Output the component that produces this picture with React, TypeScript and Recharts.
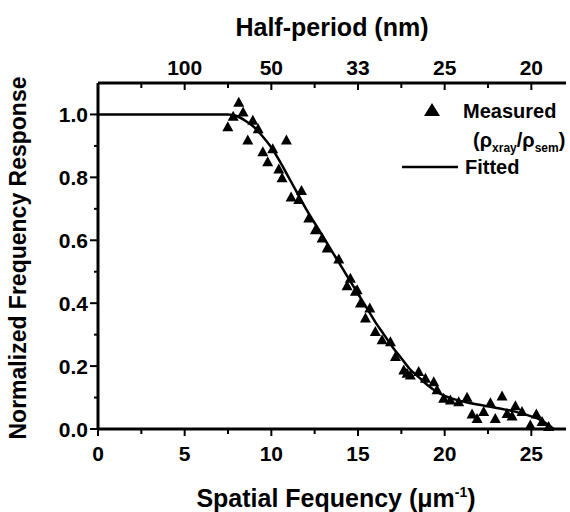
import { ComposedChart, Line, Scatter, XAxis, YAxis, Legend, Label } from "recharts";

const measuredX = [
  7.49, 7.8, 8.12, 8.37, 8.64, 8.93, 9.24, 9.51, 9.79, 10.08, 10.43, 10.62, 10.87,
  11.14, 11.58, 11.74, 12.16, 12.54, 12.93, 13.22, 13.89, 14.37, 14.56, 14.85, 14.95,
  15.14, 15.43, 15.68, 16.0, 16.39, 16.87, 17.16, 17.64, 17.83, 18.02, 18.5, 18.89,
  19.37, 19.56, 19.94, 20.33, 20.81, 21.29, 21.58, 21.87, 22.25, 22.64, 22.92, 23.31,
  23.6, 23.89, 24.08, 24.46, 24.94, 25.29, 25.62, 26.0,
];
const measuredY = [
  0.959, 0.993, 1.037, 1.006, 0.917, 0.98, 0.953, 0.88, 0.848, 0.889, 0.825, 0.797, 0.917,
  0.736, 0.728, 0.757, 0.669, 0.632, 0.606, 0.574, 0.539, 0.454, 0.478, 0.436, 0.441,
  0.399, 0.351, 0.383, 0.308, 0.282, 0.276, 0.229, 0.186, 0.176, 0.17, 0.181, 0.16,
  0.149, 0.123, 0.096, 0.091, 0.085, 0.099, 0.046, 0.032, 0.054, 0.082, 0.032, 0.103,
  0.048, 0.04, 0.072, 0.054, 0.011, 0.046, 0.022, 0.006,
];

// fitted curve, traced
const fitX = [
  0, 2, 4, 6, 7, 7.5, 8, 8.5, 9, 9.5, 10, 10.5, 11, 11.5, 12, 12.5, 13, 13.5, 14, 14.5,
  15, 15.5, 16, 16.5, 17, 17.5, 18, 18.5, 19, 19.5, 20, 21, 22, 23, 24, 25, 25.5, 26, 26.3,
];
const fitY = [
  1, 1, 1, 1, 1, 1, 0.995, 0.98, 0.96, 0.93, 0.895, 0.85, 0.8, 0.75, 0.7, 0.655, 0.61,
  0.565, 0.52, 0.475, 0.43, 0.385, 0.34, 0.3, 0.26, 0.225, 0.19, 0.165, 0.14, 0.12, 0.105,
  0.088, 0.077, 0.067, 0.056, 0.04, 0.03, 0.012, 0,
];

const xTicks = [0, 2.5, 5, 7.5, 10, 12.5, 15, 17.5, 20, 22.5, 25];
const xMajor = [0, 5, 10, 15, 20, 25];
const topTicks = [2.5, 5, 7.5, 10, 12.5, 15, 17.5, 20, 22.5, 25];
const halfPeriodAt = [5, 10, 15, 20, 25];
const halfPeriodLabels = ["100", "50", "33", "25", "20"];
const yTicks = [0, 0.1, 0.2, 0.3, 0.4, 0.5, 0.6, 0.7, 0.8, 0.9, 1.0];
const yMajor = [0, 0.2, 0.4, 0.6, 0.8, 1.0];

const measured = measuredX.map((x, i) => ({ x, y: measuredY[i] }));
const fitted = fitX.map((x, i) => ({ x, y: fitY[i] }));

const FONT = "'Liberation Sans', Arial, Helvetica, sans-serif";
const has = (arr: number[], v: number) => arr.some((m) => Math.abs(m - v) < 1e-6);

function BottomTick({ x, y, payload }: any) {
  const major = has(xMajor, payload.value);
  return (
    <g>
      <line x1={x} x2={x} y1={y} y2={y + (major ? 7 : 5)} stroke="#000" strokeWidth={2} />
      {major && (
        <text x={x} y={y + 32} textAnchor="middle" fontFamily={FONT} fontWeight="bold" fontSize={21} fill="#000">
          {payload.value}
        </text>
      )}
    </g>
  );
}

function TopTick({ x, y, payload }: any) {
  const idx = halfPeriodAt.findIndex((m) => Math.abs(m - payload.value) < 1e-6);
  return (
    <g>
      <line x1={x} x2={x} y1={y} y2={y + (idx >= 0 ? 7 : 5)} stroke="#000" strokeWidth={2} />
      {idx >= 0 && (
        <text x={x} y={y - 8} textAnchor="middle" fontFamily={FONT} fontWeight="bold" fontSize={21} fill="#000">
          {halfPeriodLabels[idx]}
        </text>
      )}
    </g>
  );
}

function LeftTick({ x, y, payload }: any) {
  const major = has(yMajor, payload.value);
  return (
    <g>
      <line x1={x} x2={x - (major ? 8 : 4)} y1={y} y2={y} stroke="#000" strokeWidth={2} />
      {major && (
        <text x={x - 10} y={y} dy="0.36em" textAnchor="end" fontFamily={FONT} fontWeight="bold" fontSize={21} fill="#000">
          {Number(payload.value).toFixed(1)}
        </text>
      )}
    </g>
  );
}

function Triangle({ cx, cy }: any) {
  if (cx == null || cy == null) return null;
  return <polygon points={`${cx},${cy - 6} ${cx - 5.5},${cy + 4} ${cx + 5.5},${cy + 4}`} fill="#000" />;
}

function KeyBox() {
  return (
    <svg width={170} height={90} style={{ display: "block", overflow: "visible" }}>
      <polygon points="32,8 24,21 40,21" fill="#000" />
      <text x={63} y={23} fontFamily={FONT} fontWeight="bold" fontSize={20} fill="#000">
        Measured
      </text>
      <text x={73} y={52} fontFamily={FONT} fontWeight="bold" fontSize={20} fill="#000">
        (ρ<tspan fontSize={12} dy={5}>xray</tspan>
        <tspan dy={-5}>/ρ</tspan>
        <tspan fontSize={12} dy={5}>sem</tspan>
        <tspan dy={-5}>)</tspan>
      </text>
      <line x1={2} x2={58} y1={72} y2={72} stroke="#000" strokeWidth={2.5} />
      <text x={65} y={79} fontFamily={FONT} fontWeight="bold" fontSize={20} fill="#000">
        Fitted
      </text>
    </svg>
  );
}

export default function App() {
  return (
    <div style={{ position: "absolute", left: 0, top: 0, width: 570, height: 512, background: "#fff" }}>
      <ComposedChart width={570} height={512} margin={{ top: 0, right: 4, bottom: 0, left: 0 }}>
        <XAxis
          xAxisId={0}
          dataKey="x"
          type="number"
          domain={[0, 27]}
          ticks={xTicks}
          interval={0}
          height={83}
          tickSize={0}
          tickMargin={0}
          tickLine={false}
          axisLine={{ stroke: "#000", strokeWidth: 3 }}
          tick={<BottomTick />}
        >
          <Label
            content={({ viewBox }: any) => (
              <text
                x={viewBox.x + viewBox.width / 2 + 4}
                y={viewBox.y + 78}
                textAnchor="middle"
                fontFamily={FONT}
                fontWeight="bold"
                fontSize={25}
                fill="#000"
              >
                Spatial Fequency (μm<tspan fontSize={14} dy={-10}>-1</tspan>
                <tspan dy={10}>)</tspan>
              </text>
            )}
          />
        </XAxis>
        <XAxis
          xAxisId="top"
          orientation="top"
          dataKey="x"
          type="number"
          domain={[0, 27]}
          ticks={topTicks}
          interval={0}
          height={83}
          tickSize={0}
          tickMargin={0}
          tickLine={false}
          axisLine={{ stroke: "#000", strokeWidth: 3 }}
          tick={<TopTick />}
        >
          <Label
            content={({ viewBox }: any) => (
              <text
                x={viewBox.x + viewBox.width / 2}
                y={36}
                textAnchor="middle"
                fontFamily={FONT}
                fontWeight="bold"
                fontSize={25}
                fill="#000"
              >
                Half-period (nm)
              </text>
            )}
          />
        </XAxis>
        <YAxis
          dataKey="y"
          type="number"
          domain={[0, 1.1]}
          ticks={yTicks}
          interval={0}
          width={98}
          tickSize={0}
          tickMargin={0}
          tickLine={false}
          axisLine={{ stroke: "#000", strokeWidth: 3 }}
          tick={<LeftTick />}
        >
          <Label
            content={({ viewBox }: any) => {
              const cy = viewBox.y + viewBox.height / 2 + 2;
              return (
                <text
                  x={26}
                  y={cy}
                  transform={`rotate(-90, 26, ${cy})`}
                  textAnchor="middle"
                  fontFamily={FONT}
                  fontWeight="bold"
                  fontSize={23}
                  fill="#000"
                >
                  Normalized Frequency Response
                </text>
              );
            }}
          />
        </YAxis>
        <Legend
          layout="vertical"
          align="center"
          verticalAlign="middle"
          wrapperStyle={{ left: 400, top: 95, width: 170 }}
          content={() => <KeyBox />}
        />
        {/* invisible copy so the top (half-period) axis has a series bound to it */}
        <Line
          xAxisId="top"
          data={fitted}
          dataKey="y"
          stroke="none"
          strokeWidth={0}
          dot={false}
          activeDot={false}
          legendType="none"
          isAnimationActive={false}
        />
        <Line
          data={fitted}
          dataKey="y"
          type="monotone"
          stroke="#000"
          strokeWidth={2.5}
          dot={false}
          activeDot={false}
          isAnimationActive={false}
        />
        <Scatter data={measured} dataKey="y" shape={<Triangle />} isAnimationActive={false} />
      </ComposedChart>
    </div>
  );
}
